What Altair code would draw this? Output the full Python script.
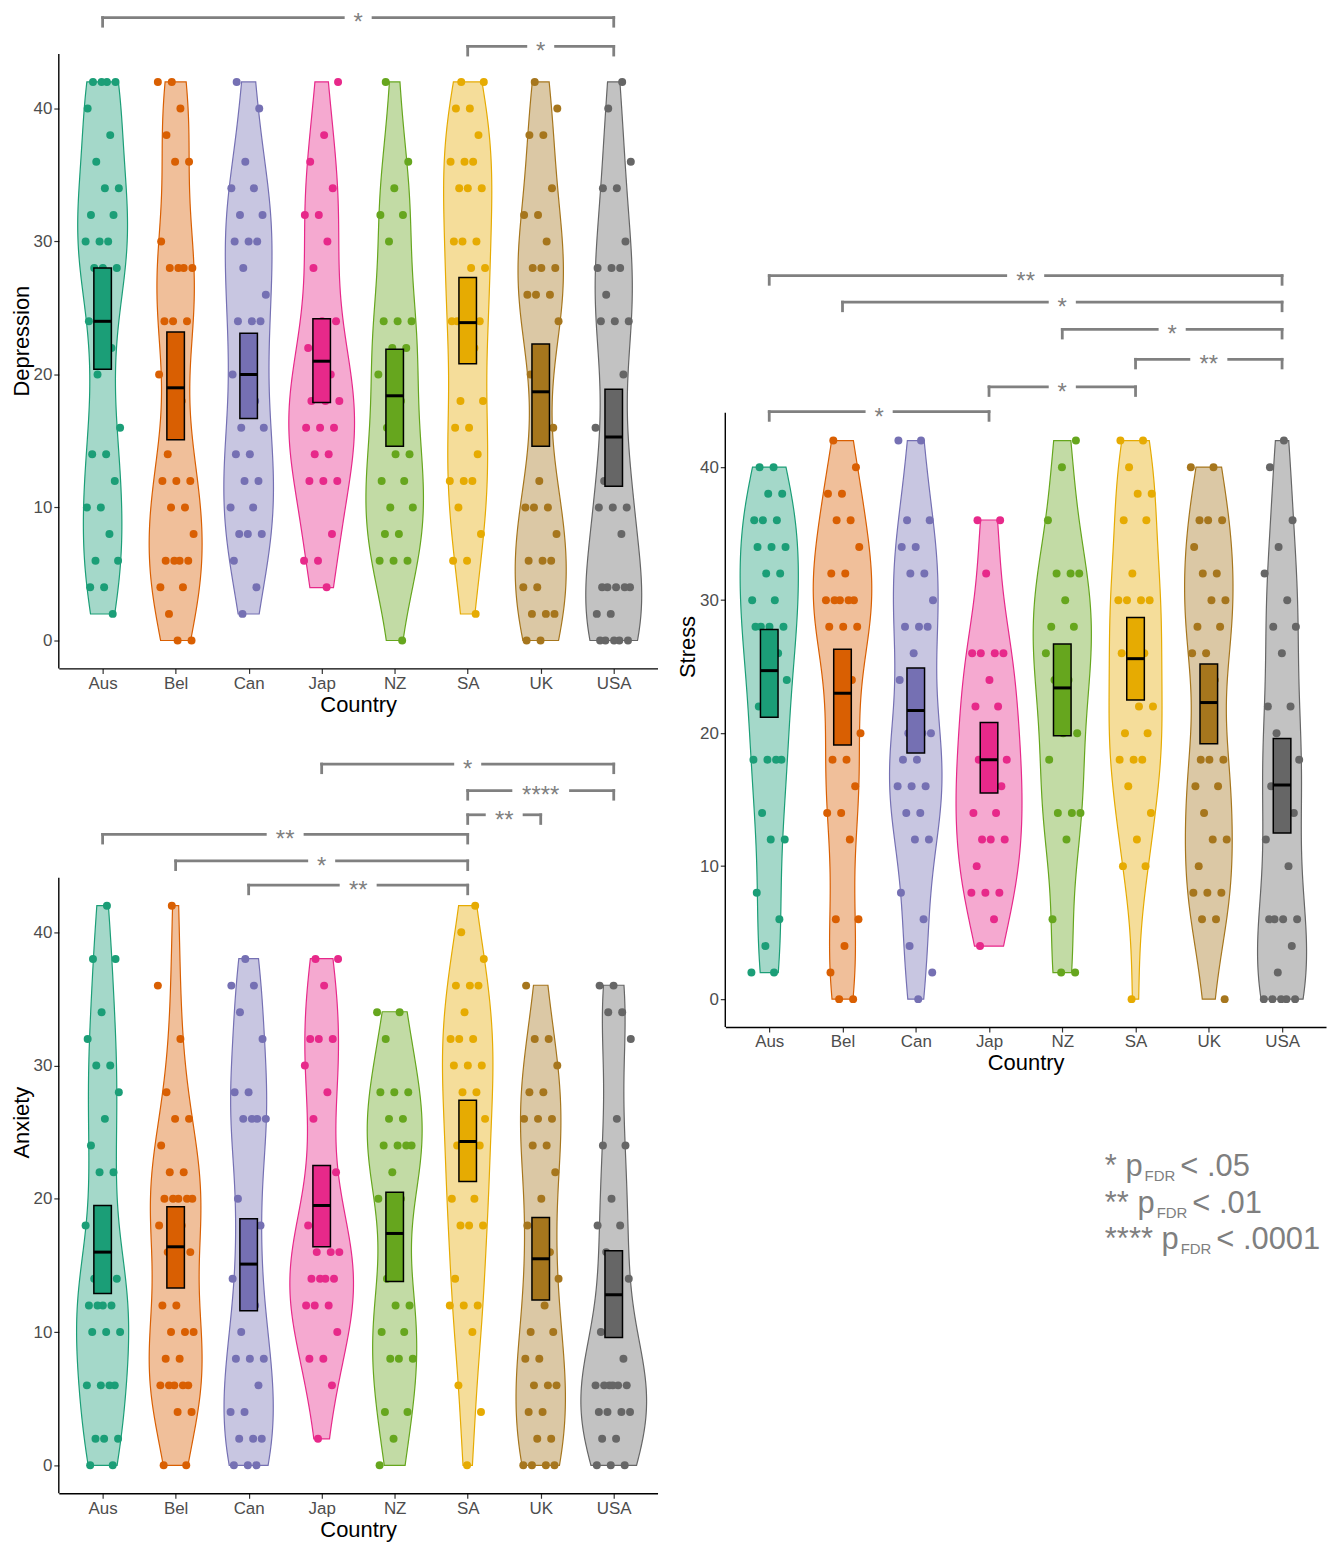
import json
import altair as alt
import pandas as pd

countries = ["Aus", "Bel", "Can", "Jap", "NZ", "SA", "UK", "USA"]
colors = ["#1B9E77", "#D95F02", "#7570B3", "#E7298A", "#66A61E", "#E6AB02", "#A6761D", "#666666"]

# ---------------- Depression ----------------
dep_values = {
    "Aus": [42, 42, 42, 42, 40, 38, 36, 34, 34, 32, 32, 30, 30, 30, 28, 28, 28, 24, 22, 20, 16, 14, 14, 12, 10, 10, 8, 6, 6, 4, 4, 2],
    "Bel": [42, 42, 40, 38, 36, 36, 30, 28, 28, 28, 28, 24, 24, 24, 20, 18, 14, 12, 12, 12, 10, 10, 8, 6, 6, 6, 6, 4, 4, 2, 0, 0],
    "Can": [42, 40, 36, 34, 34, 32, 32, 30, 30, 30, 28, 26, 24, 24, 24, 22, 20, 18, 16, 16, 14, 14, 12, 12, 10, 10, 8, 8, 8, 6, 4, 2],
    "Jap": [42, 38, 36, 34, 32, 32, 30, 28, 24, 24, 22, 20, 20, 18, 18, 18, 16, 16, 16, 14, 14, 12, 12, 12, 8, 6, 6, 4],
    "NZ": [42, 36, 34, 32, 32, 30, 24, 24, 24, 22, 22, 20, 18, 16, 14, 14, 12, 12, 10, 10, 8, 8, 6, 6, 6, 0],
    "SA": [42, 42, 40, 40, 38, 36, 36, 36, 34, 34, 34, 30, 30, 30, 28, 28, 24, 24, 24, 24, 22, 18, 18, 16, 16, 14, 12, 12, 12, 10, 8, 6, 6, 2],
    "UK": [42, 40, 38, 38, 34, 32, 32, 30, 28, 28, 28, 26, 26, 26, 24, 22, 20, 16, 12, 10, 10, 10, 8, 6, 6, 6, 4, 4, 2, 2, 2, 0, 0],
    "USA": [42, 40, 36, 34, 34, 30, 28, 28, 28, 26, 24, 24, 24, 20, 18, 16, 12, 12, 10, 10, 10, 8, 4, 4, 4, 4, 4, 2, 2, 0, 0, 0, 0, 0],
}
dep_lo = [20.4, 15.1, 16.7, 17.9, 14.6, 20.8, 14.6, 11.6]
dep_mean = [24.0, 19.0, 20.0, 21.0, 18.4, 23.9, 18.7, 15.3]
dep_hi = [28.0, 23.2, 23.1, 24.2, 21.9, 27.3, 22.3, 18.9]
dep_br_from = ["Aus", "SA"]
dep_br_to = ["USA", "USA"]
dep_br_level = [46.84, 44.67]
dep_br_label = ["*", "*"]

# ---------------- Anxiety ----------------
anx_values = {
    "Aus": [42, 38, 38, 34, 32, 30, 30, 28, 26, 24, 22, 22, 18, 16, 14, 14, 12, 12, 12, 12, 10, 10, 10, 6, 6, 6, 6, 2, 2, 2, 0, 0],
    "Bel": [42, 36, 32, 28, 26, 26, 24, 22, 22, 20, 20, 20, 20, 20, 18, 18, 16, 16, 12, 12, 10, 10, 10, 8, 8, 6, 6, 6, 6, 6, 4, 4, 0, 0],
    "Can": [38, 36, 36, 34, 32, 28, 28, 26, 26, 26, 26, 20, 18, 18, 14, 12, 10, 8, 8, 8, 6, 4, 4, 2, 2, 2, 0, 0, 0],
    "Jap": [38, 38, 36, 32, 32, 32, 30, 28, 26, 22, 20, 18, 16, 16, 16, 14, 14, 14, 14, 12, 12, 12, 10, 8, 8, 6, 2],
    "NZ": [34, 34, 32, 28, 28, 28, 26, 26, 24, 24, 24, 24, 22, 20, 20, 14, 12, 12, 10, 10, 8, 8, 8, 4, 4, 2, 0],
    "SA": [42, 40, 38, 36, 36, 36, 34, 32, 32, 32, 30, 30, 30, 28, 28, 26, 24, 24, 24, 22, 20, 20, 18, 18, 18, 14, 12, 12, 12, 10, 6, 4, 0],
    "UK": [36, 32, 32, 30, 28, 28, 26, 26, 26, 24, 24, 22, 20, 18, 16, 16, 14, 12, 10, 10, 8, 8, 6, 6, 6, 4, 4, 2, 2, 0, 0, 0, 0],
    "USA": [36, 36, 34, 34, 32, 26, 24, 24, 20, 18, 18, 16, 14, 12, 10, 8, 6, 6, 6, 6, 6, 6, 4, 4, 4, 4, 2, 2, 0, 0, 0],
}
anx_lo = [12.9, 13.3, 11.6, 16.4, 13.8, 21.3, 12.4, 9.6]
anx_mean = [16.0, 16.4, 15.1, 19.5, 17.4, 24.3, 15.5, 12.8]
anx_hi = [19.5, 19.4, 18.5, 22.5, 20.5, 27.4, 18.6, 16.1]
anx_br_from = ["Jap", "SA", "SA", "Aus", "Bel", "Can"]
anx_br_to = ["USA", "USA", "UK", "SA", "SA", "SA"]
anx_br_level = [52.63, 50.64, 48.82, 47.35, 45.36, 43.54]
anx_br_label = ["*", "****", "**", "**", "*", "**"]

# ---------------- Stress ----------------
str_values = {
    "Aus": [40, 40, 38, 38, 36, 36, 36, 34, 34, 34, 32, 32, 30, 30, 28, 28, 28, 28, 26, 24, 24, 22, 22, 18, 18, 18, 18, 14, 12, 12, 8, 6, 4, 2, 2],
    "Bel": [42, 40, 38, 38, 36, 36, 34, 32, 32, 30, 30, 30, 30, 30, 28, 28, 28, 24, 22, 20, 18, 18, 16, 14, 14, 12, 6, 6, 4, 2, 0, 0],
    "Can": [42, 42, 36, 36, 34, 34, 32, 32, 30, 28, 28, 28, 26, 24, 20, 20, 20, 18, 18, 16, 16, 16, 14, 14, 12, 12, 8, 6, 4, 2, 0],
    "Jap": [36, 36, 32, 26, 26, 26, 26, 24, 22, 22, 20, 18, 18, 18, 16, 16, 14, 14, 12, 12, 12, 10, 8, 8, 8, 6, 4],
    "NZ": [42, 40, 36, 32, 32, 32, 30, 28, 28, 26, 26, 24, 24, 20, 20, 18, 14, 14, 14, 12, 6, 2, 2],
    "SA": [42, 42, 40, 38, 38, 36, 36, 32, 30, 30, 30, 30, 28, 26, 26, 24, 22, 22, 20, 20, 18, 18, 18, 16, 14, 12, 10, 10, 0],
    "UK": [40, 40, 36, 36, 36, 34, 32, 32, 30, 30, 28, 28, 26, 26, 24, 18, 18, 18, 16, 16, 14, 12, 12, 10, 8, 8, 8, 6, 6, 0],
    "USA": [42, 40, 36, 34, 32, 30, 28, 28, 26, 22, 22, 20, 18, 18, 16, 14, 14, 12, 10, 6, 6, 6, 6, 4, 2, 0, 0, 0, 0, 0],
}
str_lo = [21.2, 19.1, 18.5, 15.5, 19.8, 22.5, 19.2, 12.5]
str_mean = [24.7, 23.0, 21.7, 18.0, 23.4, 25.6, 22.3, 16.1]
str_hi = [27.8, 26.3, 24.9, 20.8, 26.7, 28.7, 25.2, 19.6]
str_br_from = ["Aus", "Bel", "NZ", "SA", "Jap", "Aus"]
str_br_to = ["USA", "USA", "USA", "USA", "SA", "Jap"]
str_br_level = [54.40, 52.41, 50.36, 48.11, 46.04, 44.17]
str_br_label = ["**", "*", "*", "**", "*", "*"]

# ---------------- Legend text ----------------
leg_stars = ["*", "**", "****"]
leg_thr = ["< .05", "< .01", "< .0001"]

FONT = "Liberation Sans"
LABEL_GREY = "#4D4D4D"
BR_COL = "#808080"
color_scale = alt.Scale(domain=countries, range=colors)


def panel(values, lo, mean, hi, br_from, br_to, br_level, br_label, ytitle, ytop, width, height):
    rows = [{"country": c, "idx": i + 1, "value": v} for i, c in enumerate(countries) for v in values[c]]
    pts = pd.DataFrame(rows)
    ymin = -2.1
    xsc = alt.Scale(domain=[0.4, 8.6], nice=False, zero=False)
    ysc = alt.Scale(domain=[ymin, ytop], nice=False, zero=False)
    xaxis = alt.Axis(
        values=list(range(1, 9)),
        labelExpr=json.dumps(countries) + "[datum.value - 1]",
        title="Country", grid=False, domainColor="black", domainWidth=1.4,
        tickColor="#333333", tickWidth=1.2, tickSize=5, labelColor=LABEL_GREY,
        labelFontSize=17, labelFont=FONT, labelPadding=2, labelFlush=False,
        titleFont=FONT, titleFontSize=22, titleFontWeight="normal", titleColor="black", titlePadding=3,
    )
    yaxis = alt.Axis(
        values=[0, 10, 20, 30, 40], title=ytitle, grid=False, domain=False,
        tickColor="#333333", tickWidth=1.2, tickSize=5, labelColor=LABEL_GREY,
        labelFontSize=17, labelFont=FONT, labelPadding=2, labelFlush=False,
        titleFont=FONT, titleFontSize=22, titleFontWeight="normal", titleColor="black", titlePadding=0,
    )

    def X(f):
        return alt.X(f, scale=xsc, axis=xaxis)

    def Y(f):
        return alt.Y(f, scale=ysc, axis=yaxis)

    col = alt.Color("country:N", scale=color_scale, legend=None)
    base = alt.Chart(pts)

    violin = base.transform_joinaggregate(
        vmin="min(value)", vmax="max(value)", groupby=["country"]
    ).transform_density(
        "value", groupby=["country", "idx", "vmin", "vmax"], extent=[0, 42], steps=211,
        bandwidth=4.5, as_=["value", "density"]
    ).transform_filter(
        "datum.value >= datum.vmin - 0.15 && datum.value <= datum.vmax + 0.15"
    ).transform_joinaggregate(
        maxd="max(density)"
    ).transform_calculate(
        xl="datum.idx - datum.density / datum.maxd * 0.45",
        xr="datum.idx + datum.density / datum.maxd * 0.45",
    ).mark_area(orient="horizontal", fillOpacity=0.4, strokeWidth=1.2, interpolate="linear").encode(
        y=Y("value:Q"), x=X("xl:Q"), x2="xr:Q", color=col,
        stroke=alt.Stroke("country:N", scale=color_scale, legend=None), detail="country:N",
    )

    points = base.transform_window(rn="row_number()").transform_calculate(
        xj="datum.idx + ((datum.rn * 0.6180339887) % 1 - 0.5) * 0.5"
    ).mark_circle(size=64, opacity=1).encode(x=X("xj:Q"), y=Y("value:Q"), color=col)

    box_df = pd.DataFrame({"country": countries, "idx": list(range(1, 9)), "lo": lo, "mean": mean, "hi": hi})
    bbase = alt.Chart(box_df).transform_calculate(b1="datum.idx - 0.12", b2="datum.idx + 0.12")
    boxes = bbase.mark_rect(stroke="black", strokeWidth=1.5).encode(
        x=X("b1:Q"), x2="b2:Q", y=Y("lo:Q"), y2="hi:Q", color=col
    )
    means = bbase.mark_rule(color="black", strokeWidth=3).encode(x=X("b1:Q"), x2="b2:Q", y=Y("mean:Q"))

    all_vals = [v for c in countries for v in values[c]]
    ax_df = pd.DataFrame({"x": [0.4], "y1": [ymin], "y2": [max(all_vals) + 2.1]})
    yline = alt.Chart(ax_df).mark_rule(color="black", strokeWidth=1.4).encode(
        x=X("x:Q"), y=Y("y1:Q"), y2="y2:Q"
    )

    br_df = pd.DataFrame({
        "xa": [countries.index(c) + 1 for c in br_from],
        "xb": [countries.index(c) + 1 for c in br_to],
        "lev": br_level, "label": br_label,
    })
    brb = alt.Chart(br_df).transform_calculate(
        mid="(datum.xa + datum.xb) / 2",
        gap="0.136 + 0.068 * length(datum.label)",
        ga="datum.mid - datum.gap",
        gb="datum.mid + datum.gap",
        tick="datum.lev - 0.65",
    )
    rk = dict(color=BR_COL, strokeWidth=2.8, strokeCap="square")
    br_l = brb.mark_rule(**rk).encode(x=X("xa:Q"), x2="ga:Q", y=Y("lev:Q"))
    br_r = brb.mark_rule(**rk).encode(x=X("gb:Q"), x2="xb:Q", y=Y("lev:Q"))
    br_lv = brb.mark_rule(**rk).encode(x=X("xa:Q"), y=Y("lev:Q"), y2="tick:Q")
    br_rv = brb.mark_rule(**rk).encode(x=X("xb:Q"), y=Y("lev:Q"), y2="tick:Q")
    br_t = brb.mark_text(fontSize=24, color=BR_COL, baseline="alphabetic", dy=13, font=FONT).encode(
        x=X("mid:Q"), y=Y("lev:Q"), text="label:N"
    )

    return alt.layer(violin, points, boxes, means, yline, br_l, br_r, br_lv, br_rv, br_t).properties(
        width=width, height=height
    )


dep = panel(dep_values, dep_lo, dep_mean, dep_hi, dep_br_from, dep_br_to, dep_br_level, dep_br_label,
            "Depression", 47.19, 601, 658)
anx = panel(anx_values, anx_lo, anx_mean, anx_hi, anx_br_from, anx_br_to, anx_br_level, anx_br_label,
            "Anxiety", 53.6, 601, 745)
strs = panel(str_values, str_lo, str_mean, str_hi, str_br_from, str_br_to, str_br_level, str_br_label,
             "Stress", 55.13, 603, 764)

leg_df = pd.DataFrame({"stars": leg_stars, "thr": leg_thr, "line": [0, 1, 2]})
lbase = alt.Chart(leg_df).transform_calculate(
    pre="datum.stars + ' p'",
    y0="36 + datum.line * 36.5",
    yf="36 + datum.line * 36.5 + 5",
    x0="381",
    xf="381 + 31 * (0.389 * length(datum.stars) + 0.834) + 2",
    xt="381 + 31 * (0.389 * length(datum.stars) + 0.834) + 2 + 15 * 2.055 + 5",
)
LG = "#7F7F7F"
leg_pre = lbase.mark_text(fontSize=31, color=LG, align="left", baseline="alphabetic", font=FONT).encode(
    x=alt.X("x0:Q", scale=None, axis=None), y=alt.Y("y0:Q", scale=None, axis=None), text="pre:N"
)
leg_sub = lbase.mark_text(fontSize=15, color=LG, align="left", baseline="alphabetic", font=FONT, text="FDR").encode(
    x=alt.X("xf:Q", scale=None, axis=None), y=alt.Y("yf:Q", scale=None, axis=None)
)
leg_thr_m = lbase.mark_text(fontSize=31, color=LG, align="left", baseline="alphabetic", font=FONT).encode(
    x=alt.X("xt:Q", scale=None, axis=None), y=alt.Y("y0:Q", scale=None, axis=None), text="thr:N"
)
legend = alt.layer(leg_pre, leg_sub, leg_thr_m).properties(width=603, height=120)

spacer = alt.Chart(leg_df).mark_point(opacity=0, size=1).encode(x=alt.value(20), y=alt.value(20)).properties(
    width=603, height=140
)

left = alt.vconcat(dep, anx, spacing=83, bounds="flush").resolve_scale(x="independent", y="independent")
right = alt.vconcat(spacer, strs, legend, spacing=114, bounds="flush").resolve_scale(
    x="independent", y="independent"
)
chart = alt.hconcat(left, right, spacing=19).resolve_scale(
    x="independent", y="independent"
).properties(
    padding={"left": 2, "top": 0, "right": 4, "bottom": 4}
).configure(font=FONT).configure_view(stroke=None)

chart.save("out.html", embed_options={"renderer": "svg", "actions": False})
